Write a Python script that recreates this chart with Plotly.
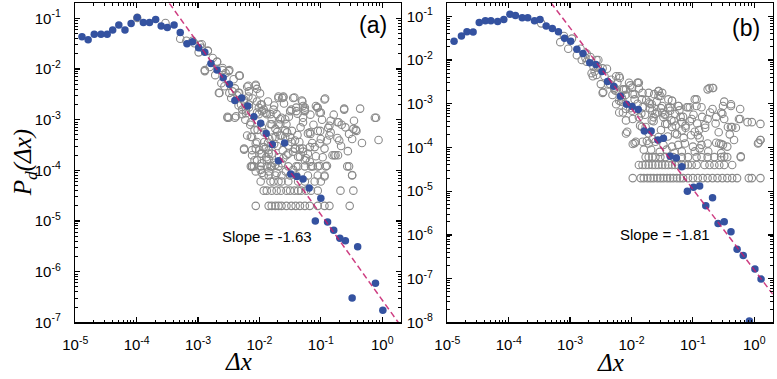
import numpy as np
import plotly.graph_objects as go

# ---------------- data (stored as log10) ----------------
# Panel (a): log-binned distribution (blue filled)
a_blue_log_dx = [-4.89, -4.79, -4.69, -4.58, -4.48, -4.39, -4.29, -4.19, -4.09, -3.99,
                 -3.89, -3.79, -3.69, -3.60, -3.50, -3.39, -3.29, -3.18, -3.09, -2.99,
                 -2.89, -2.79, -2.69, -2.59, -2.49, -2.40, -2.29, -2.19, -2.09, -1.98,
                 -1.89, -1.79, -1.69, -1.59, -1.49, -1.39, -1.29, -1.19, -1.09, -1.00,
                 -0.89, -0.79, -0.69, -0.60, -0.49, -0.40, -0.11, 0.01]
a_blue_log_p = [-1.36, -1.42, -1.31, -1.31, -1.31, -1.23, -1.13, -1.23, -1.10, -0.98,
                -1.08, -1.08, -1.02, -1.15, -1.18, -1.13, -1.28, -1.50, -1.46, -1.58,
                -1.67, -1.89, -2.02, -2.17, -2.30, -2.62, -2.57, -2.73, -2.94, -3.07,
                -3.27, -3.49, -3.81, -3.46, -4.07, -4.12, -4.17, -4.35, -5.00, -4.55,
                -5.02, -5.18, -5.34, -5.39, -6.52, -5.51, -6.23, -6.76]

# Panel (a): raw distribution (grey open)
a_open_log_dx = [-3.99, -3.53, -3.29, -3.19, -3.09, -2.97, -2.99, -2.84, -2.89, -2.81,
                 -2.69, -2.60, -2.49, -2.66, -2.49, -2.40, -2.33, -2.20, -2.06, -2.17,
                 -2.25, -2.52, -2.28, -2.17, -2.01, -1.96, -1.90, -2.04, -1.82, -1.80,
                 -1.69, -1.72, -1.64, -1.69, -1.63, -1.43, -1.31, -1.29, -1.26, -1.06,
                 -1.02, -0.93, -1.29, -1.18, -1.01, -0.86, -0.84, -0.73, -0.62, -0.46,
                 -0.47, -0.43, -0.12, -0.06, -0.73, -0.72, -0.78, -0.90, -1.02, -1.18,
                 -1.34, -1.42, -1.50, -1.64, -1.74, -1.80, -1.90, -1.96, -2.06, -2.12,
                 -2.04, -1.96, -1.88, -1.74, -1.64, -1.56, -1.45, -1.37, -1.26, -1.18,
                 -1.13, -1.02, -0.90, -0.57, -0.49, -1.37, -1.45, -1.57, -1.72, -1.85,
                 -1.96, -2.12, -2.06, -0.94,
                 -2.32, -2.65, -2.52, -2.40, -2.28, -2.17, -2.06, -2.04, -1.96, -2.01,
                 -1.88, -1.80, -1.66, -1.56, -1.74, -2.12, -2.04, -2.25, -1.93, -1.85,
                 -1.53, -1.42, -1.29, -1.21, -1.34, -1.61, -1.45, -1.30, -1.26, -1.40,
                 -1.50, -1.05, -0.94, -1.00, -1.05, -1.21, -1.00, -0.86, -0.84, -0.71,
                 -0.62, -0.60, -0.42, -0.49, -0.70, -0.81, -0.76, -0.94, -1.10, -0.10,
                 -2.94, -2.84, -2.89, -2.69, -2.60, -2.50, -2.57, -2.33, -2.18, -2.04,
                 -2.44, -2.34, -2.18, -2.46, -2.25, -2.50, -2.38, -1.98, -1.93, -1.77,
                 -1.69, -1.61, -1.48, -1.40, -1.26, -1.29, -1.08, -1.58, -1.66, -1.82,
                 -1.96, -2.14, -2.20, -2.06, -2.25, -2.12, -1.98, -1.85, -1.66, -1.58,
                 -1.53, -1.42, -1.29, -1.17, -2.12, -1.98, -1.82,
                 -3.06, -2.94, -2.76, -2.72, -2.55, -2.62, -2.42, -2.36, -2.30, -2.22,
                 -2.11, -1.99, -1.86, -1.76, -1.60, -1.52, -1.38, -1.17, -1.12, -0.98,
                 -0.88, -0.79, -0.66, -0.54, -0.36, -0.33, -0.67, -0.56, -0.97, -1.14,
                 -1.35, -1.47, -1.58, -1.71, -1.84, -1.92, -2.03, -2.15, -2.23, -2.34,
                 -1.08, -1.24, -1.61, -1.76, -1.89,
                 -2.22, -2.14, -2.08, -1.92, -1.86, -1.79, -1.71, -1.62, -1.55, -1.48,
                 -1.38, -1.33, -1.85, -1.77, -1.68, -2.00, -2.08]
a_open_log_p = [-0.99, -1.09, -1.40, -1.44, -1.44, -1.52, -1.67, -1.64, -2.02, -1.96,
                -1.85, -2.02, -2.02, -2.47, -2.47, -2.38, -2.47, -2.35, -2.33, -2.44,
                -2.60, -2.94, -2.89, -2.76, -2.76, -2.70, -2.86, -2.86, -2.89, -3.09,
                -3.09, -2.89, -2.96, -2.54, -2.57, -2.56, -2.62, -2.73, -2.83, -2.76,
                -2.86, -2.58, -3.05, -3.25, -3.22, -3.12, -3.25, -3.05, -2.78, -3.02,
                -3.18, -3.20, -2.96, -3.40, -3.36, -3.70, -3.70, -3.41, -3.47, -3.54,
                -3.57, -3.41, -3.34, -3.31, -3.34, -3.67, -3.57, -3.67, -3.57, -3.70,
                -3.80, -3.86, -3.80, -3.89, -3.86, -3.70, -3.63, -3.73, -3.80, -3.83,
                -3.92, -3.91, -3.91, -3.92, -4.09, -3.92, -3.99, -4.02, -4.05, -4.02,
                -4.05, -3.92, -4.02, -4.12,
                -2.13, -2.47, -2.96, -2.96, -2.80, -2.70, -2.31, -2.64, -2.83, -2.89,
                -2.89, -2.99, -2.99, -3.09, -3.18, -3.34, -3.44, -3.57, -3.54, -3.67,
                -3.67, -3.57, -3.57, -3.67, -3.73, -2.54, -2.57, -2.64, -2.80, -2.83,
                -2.83, -2.76, -2.60, -2.86, -3.22, -3.27, -3.38, -3.31, -3.02, -3.05,
                -2.80, -3.15, -3.22, -3.38, -3.41, -3.70, -3.70, -3.57, -3.54, -2.96,
                -1.51, -1.64, -2.04, -1.86, -1.98, -2.04, -2.34, -2.13, -2.33, -2.39,
                -2.44, -2.47, -2.54, -2.57, -2.63, -2.96, -2.93, -2.70, -2.80, -2.80,
                -2.57, -2.56, -2.80, -2.76, -2.76, -2.96, -2.73, -2.99, -3.09, -3.09,
                -3.15, -3.34, -3.31, -3.47, -3.59, -3.60, -3.67, -3.60, -3.31, -3.34,
                -3.51, -3.57, -3.63, -3.28, -3.92, -3.99, -3.92,
                -1.49, -1.58, -1.78, -2.12, -2.08, -2.28, -2.20, -2.52, -2.70, -2.87,
                -2.58, -2.48, -2.64, -2.72, -2.68, -2.94, -2.88, -2.90, -3.10, -3.00,
                -3.16, -2.90, -3.10, -3.28, -2.78, -3.46, -3.52, -3.62, -3.74, -3.46,
                -3.44, -3.22, -3.21, -3.24, -3.38, -3.44, -3.20, -3.10, -3.00, -2.72,
                -3.72, -3.76, -3.76, -3.48, -3.74,
                -2.82, -3.05, -3.20, -3.25, -3.45, -3.35, -3.52, -3.60, -3.25, -3.44,
                -3.30, -3.15, -3.78, -3.85, -3.74, -3.60, -3.80]
# Panel (a): grey points sitting on the discrete low-probability levels
a_row_log_p = [-3.92, -4.10, -4.22, -4.40, -4.70]
a_row_log_dx = [
    [-2.14, -2.09, -1.98, -1.88, -1.80, -1.69, -1.53, -1.40, -1.26, -1.16, -1.05, -0.92, -0.54],
    [-1.93, -1.85, -1.74, -1.64, -1.50, -1.40, -1.21, -1.05, -0.94, -0.49],
    [-1.98, -1.82, -1.77, -1.69, -1.64, -1.53, -1.37, -1.26, -1.10, -1.00],
    [-1.93, -1.88, -1.80, -1.72, -1.65, -1.56, -1.50, -1.43, -1.37, -1.32, -1.24, -1.16,
     -1.05, -0.68, -0.47],
    [-2.06, -1.85, -1.80, -1.74, -1.69, -1.64, -1.56, -1.48, -1.41, -1.34, -1.26, -1.18,
     -1.05, -0.94, -0.86, -0.53],
]

# Panel (b): log-binned distribution (blue filled)
b_blue_log_dx = [-4.89, -4.77, -4.68, -4.58, -4.48, -4.38, -4.29, -4.18, -4.08, -3.98,
                 -3.89, -3.78, -3.69, -3.58, -3.49, -3.39, -3.29, -3.19, -3.09, -2.99,
                 -2.89, -2.79, -2.68, -2.58, -2.48, -2.39, -2.29, -2.18, -2.08, -1.99,
                 -1.89, -1.79, -1.68, -1.57, -1.48, -1.37, -1.27, -1.18, -1.09, -0.99,
                 -0.89, -0.79, -0.68, -0.59, -0.49, -0.38, -0.28, -0.18, -0.08, 0.01,
                 0.11]
b_blue_log_p = [-1.57, -1.45, -1.35, -1.36, -1.14, -1.10, -1.10, -1.12, -1.07, -0.95,
                -0.98, -1.03, -1.03, -1.10, -1.07, -1.22, -1.28, -1.35, -1.50, -1.57,
                -1.75, -1.85, -2.06, -2.10, -2.26, -2.49, -2.60, -2.83, -3.01, -3.06,
                -3.13, -3.62, -3.62, -3.83, -3.79, -4.20, -4.24, -4.44, -5.00, -4.91,
                -4.88, -5.33, -5.15, -5.74, -5.70, -5.93, -6.33, -6.47, -7.97, -6.78,
                -7.01]

# Panel (b): raw distribution (grey open)
b_open_log_dx = [-3.47, -3.10, -2.97, -2.83, -2.67, -2.54, -2.65, -2.46, -2.35, -2.19,
                 -2.14, -1.90, -1.88, -1.82, -1.63, -1.50, -1.34, -1.37, -1.23, -1.10,
                 -0.97, -0.94, -0.76, -0.67, -0.51, -0.38, -0.49, -0.54, -0.43, -0.51,
                 -0.23, -0.38, -0.11, 0.10, 0.06, 0.10, -0.73, -0.23,
                 -2.57, -2.47, -2.25, -1.90, -1.56, -1.56, -1.34, -1.24, -1.08, -0.94,
                 -0.86, -1.05, -0.68, -0.68, -0.76, -0.52, -0.49, -0.38, -0.25, -0.36,
                 -0.04, 0.10, 0.07, -0.22, -0.33, -0.57, -0.92, -0.89, -0.97, -1.18,
                 -1.29, -1.45, -1.34, -1.18, -1.29, -1.48, -1.66, -1.82, -1.98, -2.09,
                 -1.93, -1.72, -1.56, -1.77, -2.14, -2.20, -2.28, -2.09, -1.98, -1.72,
                 -1.64, -1.37, -1.50,
                 -2.89, -2.81, -2.73, -2.57, -2.55, -2.60, -2.63, -2.44, -2.47, -2.28,
                 -2.20, -2.23, -2.04, -1.88, -1.99, -2.12, -2.15, -2.25, -2.20, -2.09,
                 -1.99, -2.09, -2.07, -1.88, -1.83, -1.67, -1.56, -1.53, -1.72, -1.61,
                 -1.67, -1.50, -1.40, -1.42, -1.83, -3.16, -3.03, -2.73,
                 -1.98, -1.82, -1.72, -1.61, -1.48, -1.34, -1.24, -1.13, -1.00, -0.86,
                 -0.76, -0.62, -0.54, -0.44,
                 -1.18, -0.97, -0.75, -0.54, -0.49, -0.89,
                 -2.38, -2.31, -2.16, -2.02, -1.95, -1.78, -1.70, -1.58, -1.45, -1.31,
                 -1.20, -1.12, -1.02, -0.90, -0.80, -0.62, -1.95, -1.86, -1.75, -1.66,
                 -1.52, -1.41, -1.26, -1.15, -1.03, -1.80, -1.68, -1.54, -1.43, -1.30,
                 -2.33, -2.26, -2.17, -2.10, -2.02, -1.95, -1.90, -1.84, -1.76, -1.70,
                 -1.64, -1.59, -1.52, -1.46, -1.40, -1.35, -1.28, -1.22, -1.16, -1.12,
                 -1.05, -0.99, -0.93, -0.85, -0.80, -0.72, -0.63, -0.58, -0.40, -0.30,
                 -2.40, -2.50, -2.62, -2.75]
b_open_log_p = [-1.16, -1.45, -1.51, -1.74, -1.93, -2.00, -2.30, -2.73, -2.55, -2.41,
                -2.67, -2.52, -2.65, -2.75, -2.78, -2.75, -2.93, -3.08, -3.05, -3.08,
                -2.90, -3.05, -2.67, -2.64, -3.05, -3.01, -2.95, -3.20, -3.53, -3.94,
                -3.35, -3.53, -3.42, -3.46, -3.91, -3.83, -2.64, -3.12,
                -2.34, -2.19, -2.37, -2.52, -2.71, -2.82, -2.93, -3.05, -3.08, -2.90,
                -3.08, -3.08, -2.64, -3.12, -3.35, -3.23, -3.35, -3.05, -3.35, -3.53,
                -3.42, -3.83, -3.89, -4.20, -3.83, -3.91, -3.72, -3.79, -3.64, -3.61,
                -3.68, -3.46, -3.53, -3.42, -3.23, -3.31, -3.16, -3.08, -3.35, -3.68,
                -3.87, -3.68, -3.76, -3.53, -3.20, -2.93, -2.67, -2.67, -2.78, -2.97,
                -3.31, -3.16, -3.05,
                -1.89, -2.00, -2.04, -2.00, -2.15, -2.26, -2.37, -2.37, -2.75, -2.63,
                -2.37, -2.52, -2.52, -2.52, -2.63, -2.67, -2.90, -3.01, -3.20, -3.12,
                -3.16, -3.38, -3.64, -3.31, -2.90, -3.01, -2.71, -2.82, -2.75, -3.23,
                -3.38, -3.20, -2.90, -3.46, -3.53, -1.59, -1.74, -1.85,
                -3.92, -3.87, -3.91, -3.87, -3.94, -3.98, -3.94, -3.91, -3.98, -3.94,
                -3.91, -3.89, -3.92, -3.98,
                -4.09, -4.09, -4.09, -4.13, -4.21, -4.02,
                -2.56, -2.80, -2.85, -3.10, -2.90, -3.25, -3.00, -3.20, -3.24, -3.40,
                -3.30, -3.55, -3.35, -3.60, -3.48, -3.30, -3.90, -3.50, -3.85, -3.80,
                -3.60, -3.75, -3.70, -3.78, -3.72, -4.05, -4.05, -4.10, -4.05, -4.12,
                -2.45, -2.70, -2.95, -2.80, -2.58, -2.78, -3.00, -3.22, -2.92, -3.10,
                -3.40, -2.95, -3.10, -3.25, -3.10, -3.38, -3.50, -3.15, -3.30, -3.50,
                -3.40, -3.25, -3.45, -3.30, -3.55, -3.20, -3.45, -3.65, -3.70, -3.55,
                -2.20, -2.55, -2.15, -1.95]
b_row_log_p = [-4.22, -4.40, -4.70]
b_row_log_dx = [
    [-1.77, -1.72, -1.66, -1.61, -1.53, -1.45, -1.32, -1.18, -1.08, -0.94, -0.86, -0.76,
     -0.65, -0.54, -0.44, -0.22],
    [-1.88, -1.82, -1.77, -1.72, -1.66, -1.61, -1.56, -1.50, -1.45, -1.40, -1.34, -1.29,
     -1.24, -1.18, -1.13, -1.08, -1.02, -0.94, -0.81, -0.73, -0.65, -0.57, -0.49, -0.36],
    [-1.98, -1.85, -1.80, -1.74, -1.69, -1.64, -1.58, -1.53, -1.48, -1.42, -1.37, -1.32,
     -1.26, -1.21, -1.16, -1.08, -1.00, -0.92, -0.84, -0.76, -0.68, -0.60, -0.52, -0.44,
     -0.36, -0.28, -0.09, -0.04, 0.10],
]

# power-law guide lines (log10 P = intercept + slope * log10 dx), as drawn
fit_a = {"slope": -1.69, "intercept": -6.56}
fit_b = {"slope": -1.845, "intercept": -6.80}
slope_labels = ["Slope = -1.63", "Slope = -1.81"]
panel_labels = ["(a)", "(b)"]

x_tick_exps = [-5, -4, -3, -2, -1, 0]
y_tick_exps_a = [-7, -6, -5, -4, -3, -2, -1]
y_tick_exps_b = [-8, -7, -6, -5, -4, -3, -2, -1]

# ---------------- figure ----------------
BLUE = "#3452A0"
GREY = "#8A8A8A"
LINE = "rgba(198,28,108,0.85)"
W, H = 777, 379


def expand_rows(row_p, row_dx):
    xs, ys = [], []
    for p, dxs in zip(row_p, row_dx):
        xs += dxs
        ys += [p] * len(dxs)
    return xs, ys


fig = go.Figure()

panels = [
    ("x", "y", a_open_log_dx, a_open_log_p, a_row_log_p, a_row_log_dx,
     a_blue_log_dx, a_blue_log_p, fit_a),
    ("x2", "y2", b_open_log_dx, b_open_log_p, b_row_log_p, b_row_log_dx,
     b_blue_log_dx, b_blue_log_p, fit_b),
]
for xa, ya, odx, op, rp, rdx, bdx, bp, fit in panels:
    rx, ry = expand_rows(rp, rdx)
    ox = 10 ** np.array(odx + rx)
    oy = 10 ** np.array(op + ry)
    fig.add_trace(go.Scatter(x=ox, y=oy, mode="markers", xaxis=xa, yaxis=ya,
                             marker=dict(symbol="circle-open", size=7.5, color=GREY,
                                         line=dict(width=1.1, color=GREY)),
                             showlegend=False, hoverinfo="skip"))
    fig.add_trace(go.Scatter(x=10 ** np.array(bdx), y=10 ** np.array(bp), mode="markers",
                             xaxis=xa, yaxis=ya,
                             marker=dict(symbol="circle", size=7.5, color=BLUE,
                                         line=dict(width=0)),
                             showlegend=False))
    lx = np.linspace(-5, 0.301, 200)
    ly = fit["intercept"] + fit["slope"] * lx
    fig.add_trace(go.Scatter(x=10 ** lx, y=10 ** ly, mode="lines", xaxis=xa, yaxis=ya,
                             line=dict(color=LINE, width=1.5, dash="6px,3.5px"),
                             showlegend=False, hoverinfo="skip"))


def sup(e):
    return "10<sup>%d</sup>" % e


minor_vals = [k * 10.0 ** d for d in range(-9, 1) for k in range(2, 10)]

tickfont = dict(family="Liberation Sans, Arial, sans-serif", size=15, color="black")
common = dict(type="log", showgrid=False, zeroline=False, showline=True,
              linecolor="black", linewidth=1.5, mirror="allticks",
              ticks="inside", ticklen=5, tickwidth=1.2, tickcolor="black",
              tickfont=tickfont,
              minor=dict(tickmode="array", tickvals=minor_vals, ticks="inside",
                         ticklen=2.5, tickwidth=1, tickcolor="black", showgrid=False))

ydom = [1 - 329.3 / H, 1 - 3.3 / H]
fig.update_layout(
    width=W, height=H, margin=dict(l=0, r=0, t=0, b=0),
    paper_bgcolor="white", plot_bgcolor="white",
    xaxis=dict(common, domain=[63.3 / W, 394.3 / W], range=[-5, 0.301], anchor="y",
               tickvals=[10.0 ** e for e in x_tick_exps],
               ticktext=[sup(e) for e in x_tick_exps], ticklabelstandoff=8),
    yaxis=dict(common, domain=ydom, range=[-7, -0.7], anchor="x",
               tickvals=[10.0 ** e for e in y_tick_exps_a],
               ticktext=[sup(e) for e in y_tick_exps_a], ticklabelstandoff=10),
    xaxis2=dict(common, domain=[441.7 / W, 772.7 / W], range=[-5, 0.301], anchor="y2",
                tickvals=[10.0 ** e for e in x_tick_exps],
                ticktext=[sup(e) for e in x_tick_exps], ticklabelstandoff=8),
    yaxis2=dict(common, domain=ydom, range=[-8, -0.7], anchor="x2",
                tickvals=[10.0 ** e for e in y_tick_exps_b],
                ticktext=[sup(e) for e in y_tick_exps_b], ticklabelstandoff=10),
)

sans = "Liberation Sans, Arial, sans-serif"
serif = "Liberation Serif, Times New Roman, serif"
ann = [
    dict(text=panel_labels[0], x=365.8 / W, y=1 - 26 / H, font=dict(family=sans, size=23)),
    dict(text=panel_labels[1], x=745 / W, y=1 - 29 / H, font=dict(family=sans, size=23)),
    dict(text=slope_labels[0], x=258 / W, y=1 - 241.7 / H, font=dict(family=sans, size=15)),
    dict(text=slope_labels[1], x=662.9 / W, y=1 - 239.3 / H, font=dict(family=sans, size=15)),
    dict(text="<i>Δx</i>", x=229 / W, y=1 - 369 / H, font=dict(family=serif, size=25)),
    dict(text="<i>Δx</i>", x=608 / W, y=1 - 370 / H, font=dict(family=serif, size=25)),
    dict(text="<i>P</i><sub><i>d</i></sub><i>(Δx)</i>", x=12 / W, y=1 - 166 / H,
         textangle=-90, font=dict(family=serif, size=25)),
]
for a in ann:
    fig.add_annotation(xref="paper", yref="paper", showarrow=False,
                       xanchor="center", yanchor="middle", font_color="black", **a)

fig.write_html("out.html",
               config={"displayModeBar": False, "staticPlot": True},
               post_script="document.body.style.margin='0';document.body.style.padding='0';"
                           "document.body.style.overflow='hidden';")
